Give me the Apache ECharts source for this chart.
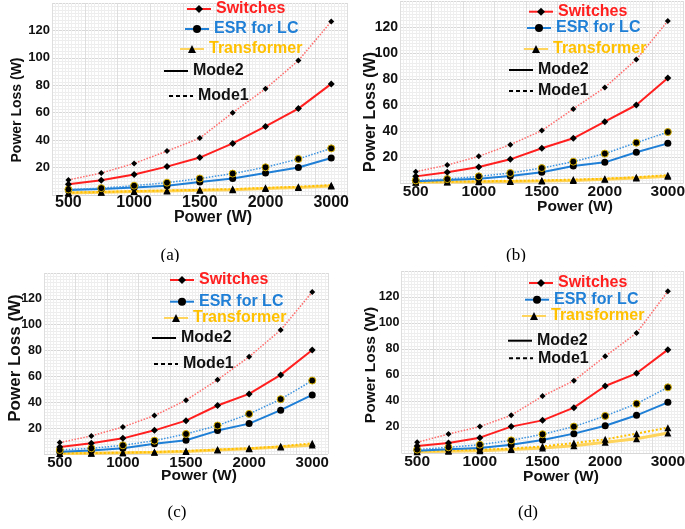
<!DOCTYPE html>
<html>
<head>
<meta charset="utf-8">
<script src="https://cdn.jsdelivr.net/npm/echarts@6/dist/echarts.min.js"></script>
<style>
  html, body { margin: 0; padding: 0; background: #fff; overflow: hidden; }
  .panel { position: absolute; }
</style>
</head>
<body>
<div id="pa" class="panel" style="left:0;top:0;width:352px;height:262px"></div>
<div id="pb" class="panel" style="left:342px;top:0;width:346px;height:262px"></div>
<div id="pc" class="panel" style="left:0;top:262px;width:342px;height:267px"></div>
<div id="pd" class="panel" style="left:342px;top:262px;width:346px;height:267px"></div>
<script>
// x categories (last tick is labelled 3000 on the original figure)
const powerLevels = ['500', '750', '1000', '1250', '1500', '1750', '2000', '2500', '3000'];

// (a)
const switchesMode1A = [11, 16, 23, 32, 41.5, 60, 77.5, 98, 126.5];
const switchesMode2A = [7.8, 10.7, 15, 20.7, 27.3, 37.6, 50, 63, 81];
const esrMode1A = [4, 5, 6.8, 9, 12, 15.6, 20.2, 26.3, 34];
const esrMode2A = [3.7, 4.4, 5.4, 6.8, 9.5, 12, 16, 20, 27];
const trafoMode1A = [1.8, 2.2, 2.8, 3.3, 3.8, 4.3, 5.2, 6, 7.2];
const trafoMode2A = [1.5, 2, 2.5, 3, 3.4, 3.9, 4.7, 5.4, 6.5];

// (b)
const switchesMode1B = [8.7, 13.8, 20.5, 29.5, 40.3, 57, 73.5, 95, 124.6];
const switchesMode2B = [5.1, 8.2, 12.3, 18.2, 26.7, 34.4, 47.2, 60, 80.8];
const esrMode1B = [2, 3, 5.1, 7.7, 11.5, 16.4, 22.6, 31, 39.2];
const esrMode2B = [1.3, 2.3, 3.3, 5.4, 8.2, 13.1, 15.9, 23.6, 30.5];
const trafoMode1B = [0.8, 1, 1.3, 1.6, 2, 2.6, 3.3, 4.5, 6];
const trafoMode2B = [0.5, 0.7, 0.9, 1.2, 1.5, 2, 2.8, 3.8, 5.2];

// (c)
const switchesMode1C = [8.8, 14, 20.9, 29.7, 41.6, 57.4, 75.2, 95.9, 125.3];
const switchesMode2C = [5.4, 8.3, 12.1, 18.3, 25.8, 37.5, 46.5, 61.2, 80.4];
const esrMode1C = [3.1, 4.4, 6.7, 10.3, 15.5, 22, 31, 42.4, 56.8];
const esrMode2C = [1.8, 2.8, 4.4, 8, 10.6, 18.1, 23.5, 33.9, 45.7];
const trafoMode1C = [0.5, 0.7, 1, 1.5, 2.3, 3.4, 4.4, 5.9, 8.3];
const trafoMode2C = [0.4, 0.6, 0.9, 1.3, 2, 3, 4, 5.5, 6.9];

// (d)
const switchesMode1D = [8.2, 14.6, 20.3, 29, 43.8, 55.6, 74.4, 92.3, 124.4];
const switchesMode2D = [5.4, 7.7, 11.8, 20.3, 25.1, 34.9, 51.5, 61.3, 79.5];
const esrMode1D = [2.6, 4.4, 6.4, 9.7, 14.4, 20.3, 28.5, 37.9, 50.5];
const esrMode2D = [1.8, 2.8, 3.8, 6.4, 10, 14.9, 21, 29, 39];
const trafoMode1D = [1.5, 2, 2.6, 3.3, 5.1, 7.7, 10.5, 14.9, 19.5];
const trafoMode2D = [1, 1.3, 1.8, 2.6, 3.8, 5.6, 8.2, 11, 15.4];

const FONT = '"Liberation Sans", Arial, sans-serif';
const RED = '#ff1f1f';
const BLUE = '#1f7fd6';
const YELLOW = '#ffc000';

// per-panel layout (pixels inside each panel div)
const panels = [
  {
    el: 'pa', caption: '(a)',
    data: [switchesMode1A, switchesMode2A, esrMode1A, esrMode2A, trafoMode1A, trafoMode2A],
    grid: { left: 52, top: 3, width: 296, height: 192 },
    xMargin: 0, xFont: 16, yFont: 13,
    yName: [17, 110, 14], xName: [213, 218, 16], cap: [170, 256],
    legend: [[215, 10], [213, 30], [208, 50], [192, 72], [197, 97]]
  },
  {
    el: 'pb', caption: '(b)',
    data: [switchesMode1B, switchesMode2B, esrMode1B, esrMode2B, trafoMode1B, trafoMode2B],
    grid: { left: 58, top: 1, width: 285, height: 182 },
    xMargin: 1, xFont: 15.5, yFont: 14,
    yName: [29, 112, 16], xName: [233, 207, 15.5], cap: [174, 256],
    legend: [[215, 12.7], [213, 29], [210, 50], [195, 71], [195, 92]]
  },
  {
    el: 'pc', caption: '(c)',
    data: [switchesMode1C, switchesMode2C, esrMode1C, esrMode2C, trafoMode1C, trafoMode2C],
    grid: { left: 44, top: 11, width: 284, height: 181 },
    xMargin: 1, xFont: 15, yFont: 12.5,
    yName: [15, 96, 17], xName: [199, 214, 15.5], cap: [177, 251],
    legend: [[198, 19], [198, 40.7], [192, 57], [180, 77], [182, 103]]
  },
  {
    el: 'pd', caption: '(d)',
    data: [switchesMode1D, switchesMode2D, esrMode1D, esrMode2D, trafoMode1D, trafoMode2D],
    grid: { left: 59.5, top: 9, width: 284.5, height: 182 },
    xMargin: 1, xFont: 15.5, yFont: 12.5,
    yName: [29, 103, 15.5], xName: [219, 215, 15.5], cap: [186, 251],
    legend: [[215, 22], [211, 38.7], [208, 55], [194, 79.7], [195, 97.3]]
  }
];

const legendItems = [
  { name: 'Switches', color: RED },
  { name: 'ESR for LC', color: BLUE },
  { name: 'Transformer', color: YELLOW },
  { name: 'Mode2', color: '#111' },
  { name: 'Mode1', color: '#111' }
];

const buildOption = (p) => {
  const [sw1, sw2, esr1, esr2, tr1, tr2] = p.data;

  const legends = legendItems.map((item, i) => ({
    left: p.legend[i][0] - 29,
    top: p.legend[i][1] - 9,
    padding: 0,
    itemWidth: 24,
    itemHeight: 10,
    selectedMode: false,
    data: [item.name],
    textStyle: { color: item.color, fontSize: 16, fontWeight: 'bold', fontFamily: FONT }
  }));

  const line = (name, data, color, width, type, symbol, size, extra) => Object.assign({
    name: name,
    type: 'line',
    data: data,
    symbol: symbol,
    symbolSize: size,
    showSymbol: true,
    lineStyle: { color: color, width: width, type: type },
    itemStyle: { color: '#000' },
    z: 3
  }, extra || {});

  // empty series used only for the Mode2 / Mode1 legend keys
  const key = (name, type) => ({
    name: name, type: 'line', data: [], symbol: 'none',
    lineStyle: { color: '#000', width: 2, type: type },
    itemStyle: { color: 'rgba(0,0,0,0)', borderWidth: 0 }
  });

  return {
    animation: false,
    grid: p.grid,
    xAxis: [
      {
        type: 'category',
        data: powerLevels,
        boundaryGap: true,
        axisLine: { show: false },
        axisTick: { show: false },
        axisLabel: {
          interval: 1, margin: p.xMargin, color: '#111',
          fontSize: p.xFont, fontWeight: 'bold', fontFamily: FONT
        },
        splitLine: { show: false }
      },
      {
        // helper axis for the vertical grid lines
        type: 'value', min: 0, max: 9, interval: 1,
        position: 'bottom',
        axisLine: { show: false }, axisTick: { show: false }, axisLabel: { show: false },
        splitLine: { show: true, lineStyle: { color: '#dedede', width: 1 } },
        minorTick: { show: false, splitNumber: 10 },
        minorSplitLine: { show: true, lineStyle: { color: '#efefef', width: 1 } }
      }
    ],
    yAxis: {
      type: 'value', min: 0, max: 140, interval: 20,
      axisLine: { show: false },
      axisTick: { show: false },
      axisLabel: {
        showMinLabel: false, showMaxLabel: false, margin: 2, color: '#111',
        fontSize: p.yFont, fontWeight: 'bold', fontFamily: FONT
      },
      splitLine: { lineStyle: { color: '#d8d8d8', width: 1 } },
      minorTick: { show: false, splitNumber: 8 },
      minorSplitLine: { show: true, lineStyle: { color: '#ededed', width: 1 } }
    },
    legend: legends,
    graphic: [
      {
        type: 'text', x: p.yName[0], y: p.yName[1], rotation: Math.PI / 2,
        style: {
          text: 'Power Loss (W)', fill: '#111', textAlign: 'center', textVerticalAlign: 'middle',
          font: 'bold ' + p.yName[2] + 'px ' + FONT
        }
      },
      {
        type: 'text', x: p.xName[0], y: p.xName[1],
        style: {
          text: 'Power (W)', fill: '#111', textAlign: 'center', textVerticalAlign: 'middle',
          font: 'bold ' + p.xName[2] + 'px ' + FONT
        }
      },
      {
        type: 'text', x: p.cap[0], y: p.cap[1],
        style: {
          text: p.caption, fill: '#000', textAlign: 'center', textVerticalAlign: 'middle',
          font: '17px "Liberation Serif", "Times New Roman", serif'
        }
      }
    ],
    series: [
      line('Transformer', tr2, '#ffd45c', 3, 'solid', 'triangle', 7),
      line('Transformer Mode1', tr1, YELLOW, 2, 'dotted', 'triangle', 7),
      line('ESR for LC', esr2, BLUE, 2, 'solid', 'circle', 7),
      line('ESR Mode1', esr1, '#3d94e0', 1.5, 'dotted', 'circle', 7,
        { itemStyle: { color: '#000', borderColor: '#d6b000', borderWidth: 1 } }),
      line('Switches', sw2, RED, 2, 'solid', 'diamond', 7),
      line('Switches Mode1', sw1, '#ff6b6b', 1.5, 'dotted', 'diamond', 6),
      key('Mode2', 'solid'),
      key('Mode1', [4, 3])
    ]
  };
};

panels.forEach((p) => {
  const chart = echarts.init(document.getElementById(p.el));
  chart.setOption(buildOption(p));
});
</script>
</body>
</html>
